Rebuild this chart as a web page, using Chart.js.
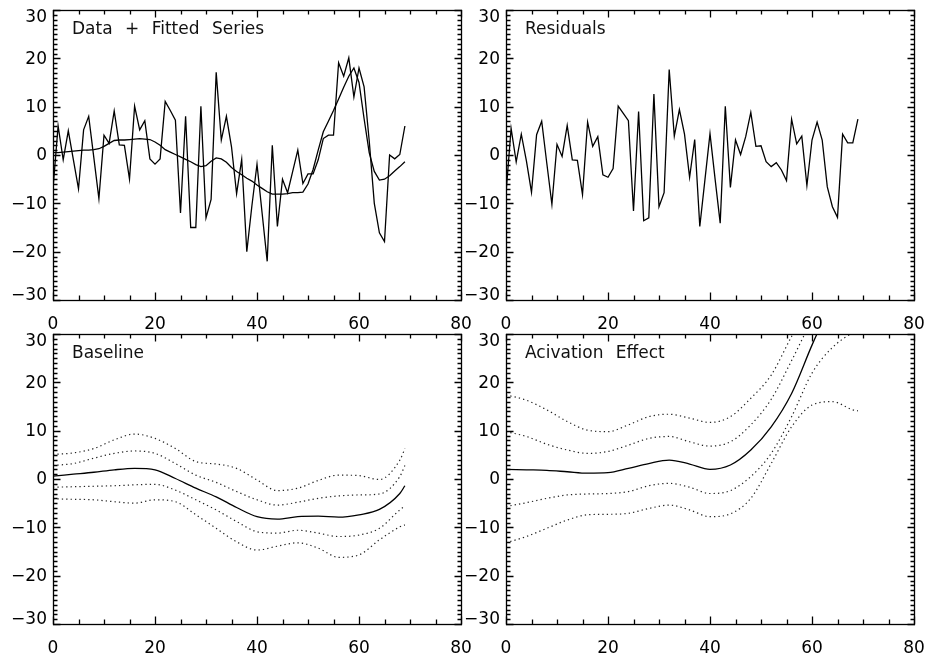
<!DOCTYPE html>
<html>
<head>
<meta charset="utf-8">
<script src="https://cdn.jsdelivr.net/npm/chart.js@4.4.0/dist/chart.umd.min.js"></script>
<style>
html, body { margin: 0; padding: 0; background: #fff; width: 929px; height: 664px; overflow: hidden; position: relative; }
canvas { position: absolute; }
</style>
</head>
<body>
<canvas id="tl"></canvas>
<canvas id="tr"></canvas>
<canvas id="bl"></canvas>
<canvas id="br"></canvas>
<script>
// tick labels
const xTicks = [0, 20, 40, 60, 80];
const yTicks = [-30, -20, -10, 0, 10, 20, 30];

// top panels: one value per scan (0..69)
const dataVals = [-7, 6, -1, 5, -1, -7, 5.2, 8, -0.5, -9, 4.1, 2.4, 9.1, 2.1, 2, -5, 10.1, 5.2, 7.1, -0.8,
  -1.9, -0.8, 11.1, 9.2, 7.2, -12, 8, -15, -15, 10.1, -13, -9.2, 17.1, 3.1, 8, 1.7, -8, -0.9, -20, -10.5,
  -1.9, -12, -22, 2, -14.8, -5, -7.8, -3.4, 1, -5.9, -3.9, -3.9, -1, 3.4, 4.1, 4.1, 19.1, 16.3, 20.1, 12,
  18, 14.1, 3, -10, -16.1, -17.9, 0, -0.8, 0.1, 6];
const fitVals = [0.5, 0.5, 0.6, 0.7, 0.8, 0.9, 1.0, 1.0, 1.1, 1.3, 1.8, 2.4, 3.0, 3.1, 3.1, 3.2, 3.3, 3.4, 3.3, 3.2,
  2.7, 2.0, 1.1, 0.6, 0.1, -0.4, -0.9, -1.4, -2.0, -2.4, -2.2, -1.3, -0.6, -0.8, -1.5, -2.6, -3.4, -4.1, -4.8, -5.4,
  -6.2, -6.9, -7.6, -8.1, -8.1, -8.1, -8.0, -7.8, -7.8, -7.7, -6, -3, 1, 4.8, 7, 9.2, 11.6, 14, 16.3, 18,
  15, 7.5, 0.5, -3.4, -5.2, -5, -4.3, -3.3, -2.4, -1.4];
const residVals = [-8, 5.5, -1.4, 4.3, -1.2, -7.7, 4.2, 7, -1.7, -10.2, 2.2, -0.3, 6.1, -1, -1.1, -8.2, 6.8, 1.8, 3.8, -4.1,
  -4.6, -2.8, 10.1, 8.6, 7.1, -11.6, 9, -13.6, -13, 12.6, -10.7, -7.8, 17.7, 3.9, 9.4, 4.3, -4.6, 3.2, -14.8, -5.2,
  4.4, -5, -14.1, 10.1, -6.7, 3.1, 0.1, 3.8, 8.8, 1.8, 1.9, -1.4, -2.4, -1.6, -3.1, -5.3, 7.4, 2.3, 3.9, -6.3,
  3.1, 6.8, 3.1, -6.6, -10.7, -12.9, 4.3, 2.5, 2.5, 7.4];

// bottom panels: smooth curves sampled at these x
const curveX = [0, 4, 8, 12, 16, 20, 24, 28, 32, 36, 40, 44, 48, 52, 56, 60, 64, 68, 69];
const baseMid = [0.6, 1.0, 1.4, 1.9, 2.2, 1.9, 0.1, -1.9, -3.7, -5.9, -7.8, -8.3, -7.8, -7.7, -7.9, -7.4, -6.3, -3, -1.4];
const baseUp2 = [5.1, 5.4, 6.3, 8.1, 9.3, 8.4, 6.3, 3.6, 3.1, 2.2, -0.2, -2.4, -1.9, -0.3, 0.8, 0.7, -0.1, 3.9, 6.3];
const baseUp1 = [2.8, 3.2, 4.3, 5.3, 5.8, 5.3, 3.2, 0.8, -0.7, -2.6, -4.3, -5.4, -4.8, -4, -3.5, -3.3, -3.1, 0.5, 2.8];
const baseLo1 = [-1.7, -1.6, -1.5, -1.4, -1.2, -1.1, -2.3, -4.3, -6.4, -8.8, -10.9, -11.2, -10.6, -11.2, -11.9, -11.6, -10.2, -6.4, -5.6];
const baseLo2 = [-4.1, -4.2, -4.3, -4.7, -5.0, -4.3, -4.7, -7.4, -10.2, -13, -14.7, -13.9, -13.2, -14.3, -16.2, -15.7, -12.6, -9.9, -9.5];
const actMid = [2.0, 1.9, 1.8, 1.5, 1.2, 1.3, 2.2, 3.2, 3.9, 3.1, 2.0, 2.9, 6, 10.8, 17.7, 27.7, 37, 46, 48];
const actUp2 = [17.4, 16.3, 14.3, 11.9, 10.1, 9.8, 11.2, 12.9, 13.4, 12.6, 11.7, 12.9, 16.7, 21.5, 29.5, 37, 44, 50, 51];
const actUp1 = [9.8, 8.8, 7.2, 6.0, 5.3, 5.7, 7, 8.4, 8.8, 7.7, 6.8, 7.7, 11.2, 16.5, 24.5, 33, 41, 47, 48];
const actLo1 = [-5.7, -4.9, -4, -3.3, -3.1, -3.0, -2.6, -1.4, -0.9, -1.7, -3, -2.4, 0.5, 5.3, 12.9, 21.9, 27.2, 30.2, 30.5];
const actLo2 = [-13.2, -11.9, -10.2, -8.5, -7.4, -7.3, -7.1, -6.1, -5.4, -6.4, -7.8, -7.2, -4, 3.2, 10.8, 15.3, 16, 14.3, 14.1];

const FONT = { family: 'DejaVu Sans', size: 17 };
const fmt = v => v < 0 ? '\u2212' + Math.abs(v) : String(v);

function scanPts(vals) { return vals.map((v, i) => ({ x: i, y: v })); }
function curvePts(vals) { return vals.map((v, i) => ({ x: curveX[i], y: v })); }

function jagged(vals) {
  return { data: scanPts(vals), borderColor: '#000', borderWidth: 1.3, pointRadius: 0, tension: 0 };
}
function smooth(vals, dotted) {
  return {
    data: curvePts(vals), borderColor: dotted ? '#222' : '#000', borderWidth: dotted ? 1.2 : 1.3,
    borderDash: dotted ? [1.3, 3.1] : [], pointRadius: 0, tension: 0.4, cubicInterpolationMode: 'monotone'
  };
}

// frame, inward ticks on all four sides, y labels kept inside the range, panel label
const idlFrame = {
  id: 'idlFrame',
  afterDraw(chart, args, opts) {
    const { ctx, chartArea: a, scales: { x, y } } = chart;
    ctx.save();
    ctx.strokeStyle = '#000';
    ctx.lineWidth = 1.3;
    ctx.strokeRect(a.left + 0.5, a.top + 0.5, a.width, a.height);
    ctx.beginPath();
    for (let v = 0; v <= 80; v += 5) {
      const px = Math.round(x.getPixelForValue(v)) + 0.5;
      const len = v % 20 === 0 ? 7.5 : 4.5;
      ctx.moveTo(px, a.bottom); ctx.lineTo(px, a.bottom - len);
      ctx.moveTo(px, a.top); ctx.lineTo(px, a.top + len);
    }
    for (let v = -30; v <= 30; v += 1) {
      const py = Math.round(y.getPixelForValue(v)) + 0.5;
      const len = v % 10 === 0 ? 7.5 : 4.5;
      ctx.moveTo(a.left, py); ctx.lineTo(a.left + len, py);
      ctx.moveTo(a.right + 1, py); ctx.lineTo(a.right + 1 - len, py);
    }
    ctx.stroke();

    ctx.fillStyle = '#000';
    ctx.font = '17px "DejaVu Sans"';
    ctx.textAlign = 'right';
    ctx.textBaseline = 'middle';
    y.ticks.forEach(t => {
      let py = y.getPixelForValue(t.value);
      if (t.value === y.max) py += 7;
      if (t.value === y.min) py -= 5;
      ctx.fillText(fmt(t.value), a.left - 6, py + 1);
    });

    ctx.fillStyle = '#111';
    ctx.textAlign = 'left';
    if ('wordSpacing' in ctx) ctx.wordSpacing = '7px';
    ctx.fillText(opts.title, a.left + 19, a.top + 20);
    ctx.restore();
  }
};

function panel(id, left, top, title, datasets) {
  const c = document.getElementById(id);
  c.width = 498; c.height = 355;
  c.style.left = (left - 60) + 'px';
  c.style.top = (top - 20) + 'px';
  return new Chart(c, {
    type: 'line',
    data: { datasets: datasets },
    plugins: [idlFrame],
    options: {
      responsive: false,
      animation: false,
      devicePixelRatio: 1,
      layout: { padding: { left: 0, top: 20, right: 30, bottom: 0 } },
      plugins: { legend: { display: false }, tooltip: { enabled: false }, idlFrame: { title: title } },
      scales: {
        x: {
          type: 'linear', min: 0, max: 80,
          afterBuildTicks: s => { s.ticks = xTicks.map(v => ({ value: v })); },
          afterFit: s => { s.height = 45; },
          grid: { display: false, drawTicks: false },
          border: { display: false },
          ticks: { padding: 14, font: FONT, color: '#000', maxRotation: 0, autoSkip: false }
        },
        y: {
          type: 'linear', min: -30, max: 30,
          afterBuildTicks: s => { s.ticks = yTicks.map(v => ({ value: v })); },
          afterFit: s => { s.width = 60; },
          grid: { display: false, drawTicks: false },
          border: { display: false },
          ticks: { display: false }
        }
      }
    }
  });
}

panel('tl', 53, 10, 'Data + Fitted Series', [jagged(dataVals), jagged(fitVals)]);
panel('tr', 506, 10, 'Residuals', [jagged(residVals)]);
panel('bl', 53, 334, 'Baseline', [
  smooth(baseMid, false), smooth(baseUp2, true), smooth(baseUp1, true), smooth(baseLo1, true), smooth(baseLo2, true)
]);
panel('br', 506, 334, 'Acivation Effect', [
  smooth(actMid, false), smooth(actUp2, true), smooth(actUp1, true), smooth(actLo1, true), smooth(actLo2, true)
]);
</script>
</body>
</html>
